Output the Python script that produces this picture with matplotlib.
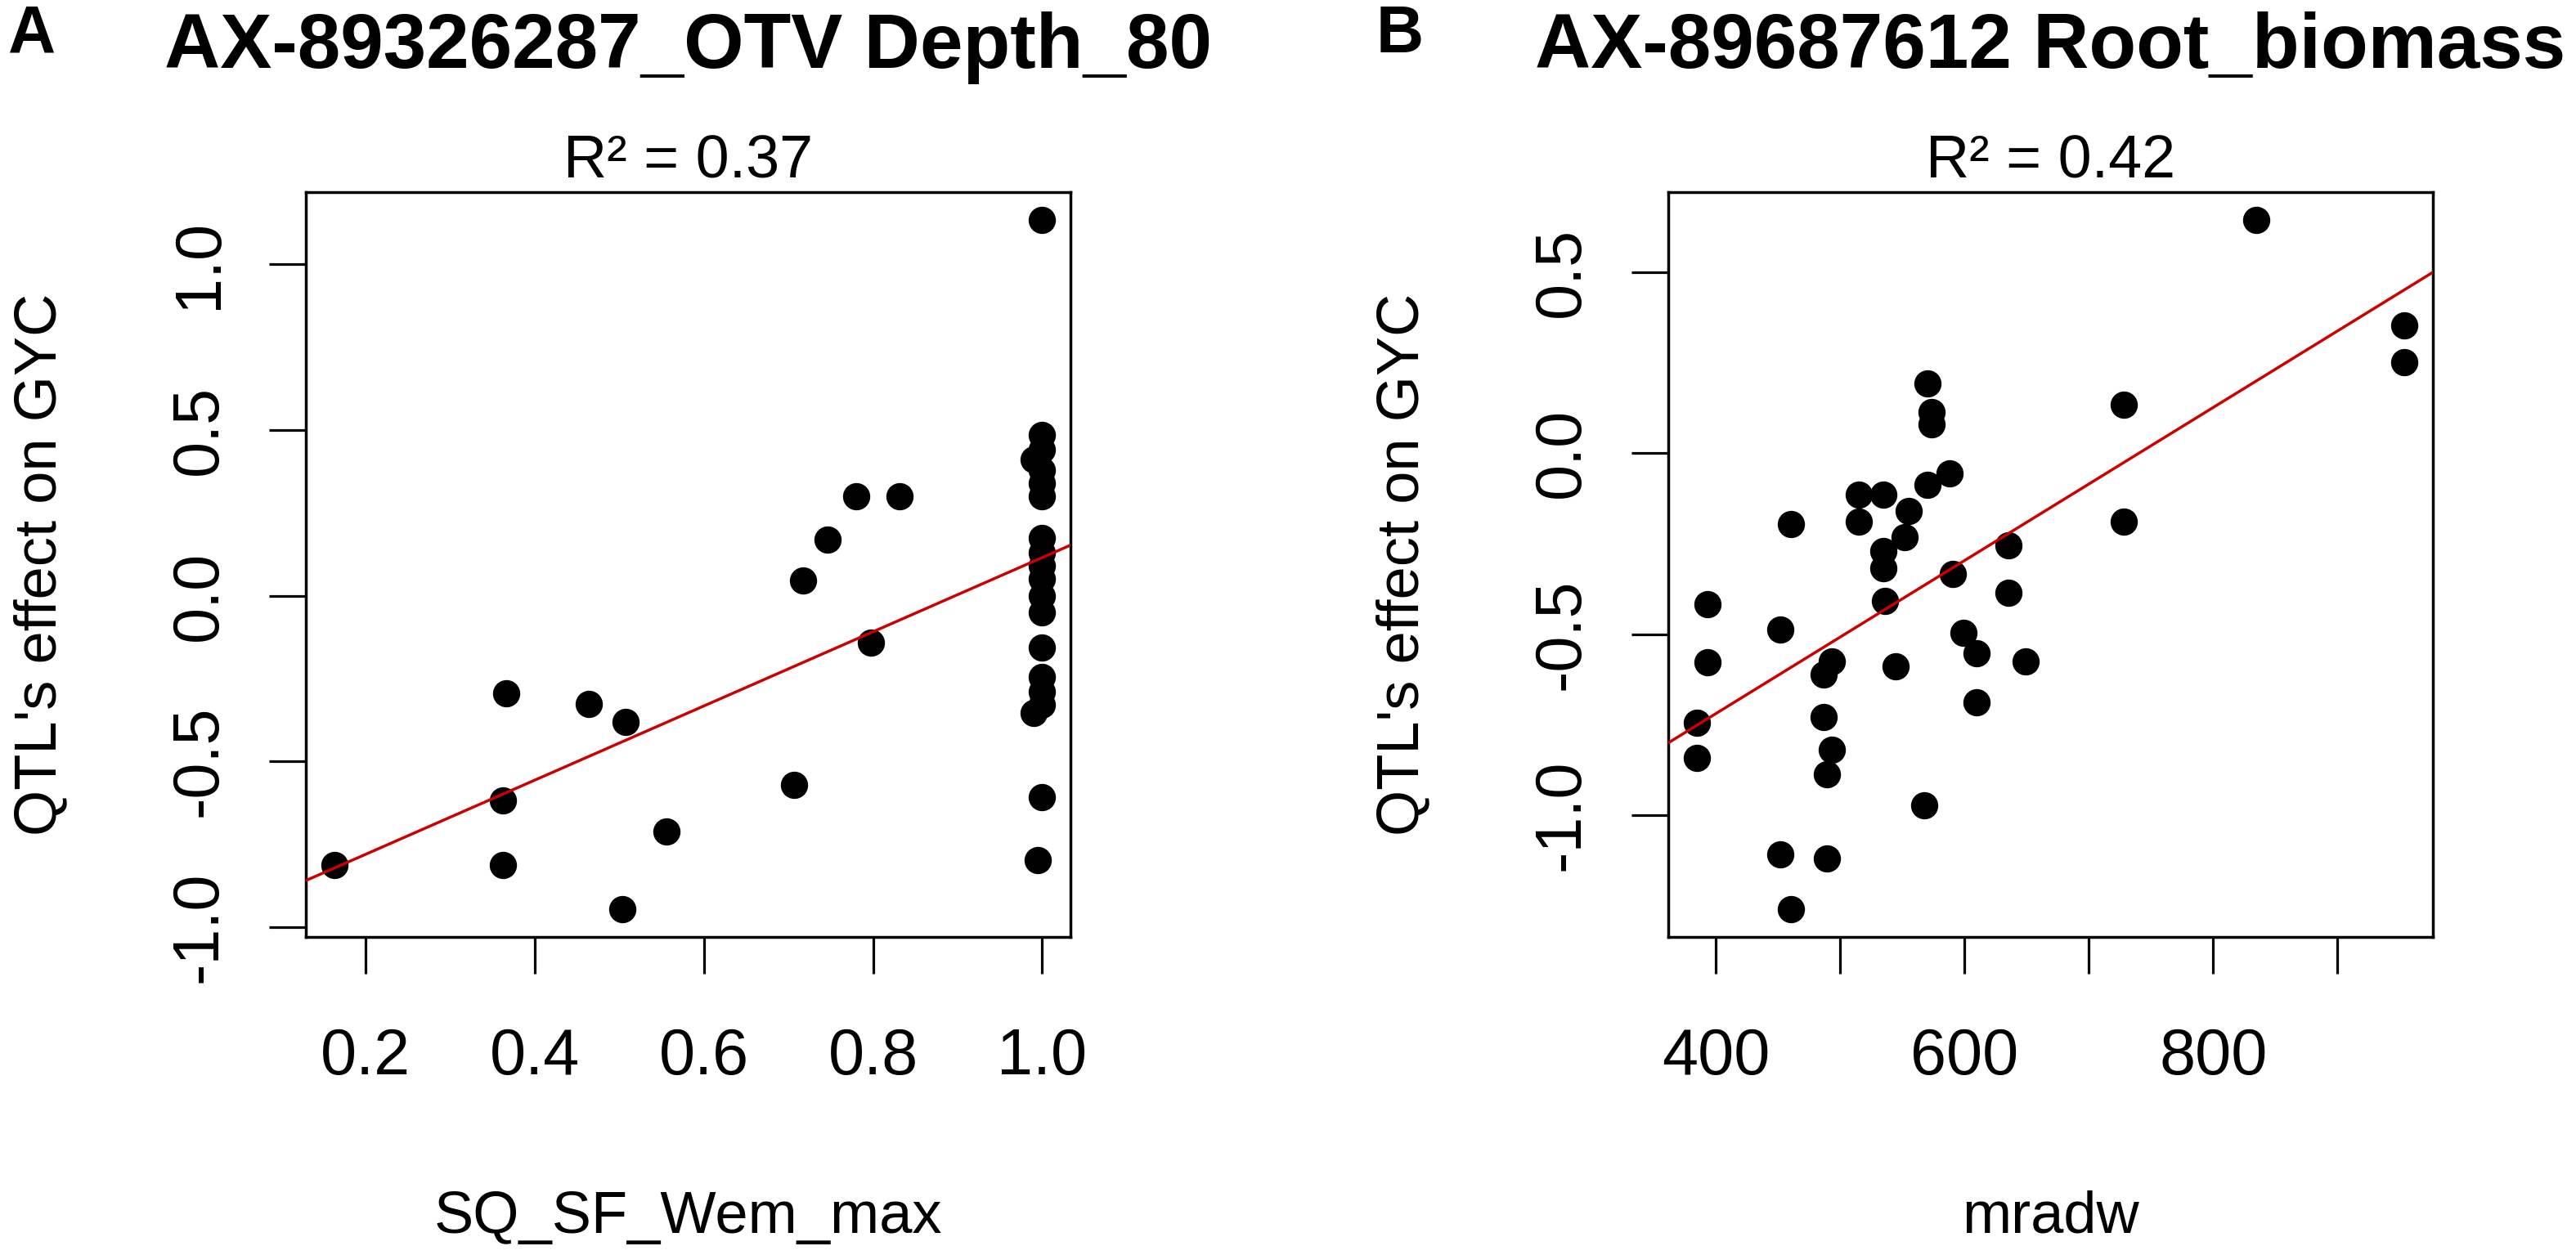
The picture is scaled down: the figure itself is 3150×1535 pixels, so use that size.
import numpy as np
import matplotlib
matplotlib.use('Agg')
import matplotlib.pyplot as plt

plt.rcParams['font.family'] = ['Liberation Sans', 'DejaVu Sans']

W, H = 3150, 1535

# panel A data: SQ_SF_Wem_max vs QTL effect
sq_x = [0.163, 0.366, 0.363, 0.363, 0.464, 0.508, 0.504, 0.556,
        0.717, 0.746, 0.780, 0.831, 0.798, 0.707,
        1.0, 1.0, 0.99, 1.0, 1.0, 1.0, 1.0,
        1.0, 1.0, 1.0, 1.0, 1.0, 1.0, 1.0,
        1.0, 1.0, 1.0, 0.99, 1.0, 0.995]
sq_y = [-0.814, -0.294, -0.618, -0.814, -0.327, -0.381, -0.947, -0.713,
        0.045, 0.170, 0.300, 0.300, -0.142, -0.571,
        1.135, 0.486, 0.410, 0.440, 0.380, 0.340, 0.300,
        0.173, 0.130, 0.090, 0.050, 0.000, -0.050, -0.156,
        -0.245, -0.290, -0.330, -0.355, -0.608, -0.799]

# panel B data: mradw vs QTL effect
mr_x = [384.6, 384.6, 393.7, 393.7, 452.1, 460.3, 452.1, 460.3,
        493.1, 486.8, 486.8, 493.1, 489.2, 489.2,
        514.8, 514.8, 535.0, 535.0, 535.0, 536.0, 544.7,
        555.3, 551.9, 570.2, 573.6, 573.6, 570.2, 588.0, 590.5,
        567.8, 599.1, 609.7, 609.7, 635.3, 635.3, 649.3,
        727.9, 727.9, 834.9, 954.0, 954.0]
mr_y = [-0.744, -0.842, -0.418, -0.577, -0.488, -0.196, -1.109, -1.260,
        -0.575, -0.612, -0.728, -0.818, -0.887, -1.120,
        -0.115, -0.188, -0.115, -0.271, -0.318, -0.409, -0.588,
        -0.160, -0.231, 0.193, 0.113, 0.079, -0.088, -0.056, -0.334,
        -0.972, -0.496, -0.553, -0.687, -0.255, -0.385, -0.575,
        0.134, -0.188, 0.645, 0.352, 0.251]

# fitted lines (intercept, slope) as drawn in the figure
fit_a = (-1.005, 1.12)
fit_b = (-1.565, 0.002114)

panels = [
    dict(letter='A', title='AX-89326287_OTV Depth_80', r2='R\u00b2 = 0.37',
         x=sq_x, y=sq_y, fit=fit_a, xlabel='SQ_SF_Wem_max',
         xticks=[0.2, 0.4, 0.6, 0.8, 1.0], xticklabels=['0.2', '0.4', '0.6', '0.8', '1.0'],
         yticks=[-1.0, -0.5, 0.0, 0.5, 1.0], left=374, letter_x=10),
    dict(letter='B', title='AX-89687612 Root_biomass', r2='R\u00b2 = 0.42',
         x=mr_x, y=mr_y, fit=fit_b, xlabel='mradw',
         xticks=[400, 500, 600, 700, 800, 900], xticklabels=['400', '', '600', '', '800', ''],
         yticks=[-1.0, -0.5, 0.0, 0.5], left=2040, letter_x=1683),
]

fig = plt.figure(figsize=(W / 100, H / 100), dpi=100)


def fx(px):
    return px / W


def fy(py):
    return 1 - py / H


top, bottom, width = 235, 1146, 935
for p in panels:
    ax = fig.add_axes([fx(p['left']), fy(bottom), width / W, (bottom - top) / H])
    x = np.array(p['x'])
    y = np.array(p['y'])
    # R style 4% padding
    xr = x.max() - x.min()
    yr = y.max() - y.min()
    ax.set_xlim(x.min() - 0.04 * xr, x.max() + 0.04 * xr)
    ax.set_ylim(y.min() - 0.04 * yr, y.max() + 0.04 * yr)
    ax.plot(x, y, 'o', color='black', markersize=23, zorder=3)
    xs = np.array(ax.get_xlim())
    a, b = p['fit']
    ax.plot(xs, a + b * xs, color='#cc0000', lw=2.5, zorder=4)

    ax.set_xticks(p['xticks'])
    ax.set_xticklabels(p['xticklabels'])
    ax.set_yticks(p['yticks'])
    ax.set_yticklabels(['%.1f' % v for v in p['yticks']])
    ax.tick_params(axis='both', direction='out', length=32.4, width=2.3,
                   labelsize=57, colors='black')
    ax.tick_params(axis='x', pad=47)
    ax.tick_params(axis='y', pad=34, labelrotation=90)
    for lab in ax.get_yticklabels():
        lab.set_va('center')
    for s in ax.spines.values():
        s.set_linewidth(2.5)
        s.set_color('black')

    cx = p['left'] + width / 2
    fig.text(fx(cx), fy(83), p['title'], fontsize=68, fontweight='bold',
             ha='center', va='baseline')
    fig.text(fx(cx), fy(218), p['r2'], fontsize=53, ha='center', va='baseline')
    fig.text(fx(cx), fy(1508), p['xlabel'], fontsize=52, ha='center', va='baseline')
    fig.text(fx(p['left'] - 324), fy((top + bottom) / 2), "QTL's effect on GYC",
             fontsize=52, rotation=90, ha='center', va='center')
    fig.text(fx(p['letter_x']), fy(64), p['letter'], fontsize=58, fontweight='bold',
             ha='left', va='baseline')

fig.savefig('out.png', dpi=100, facecolor='white')
